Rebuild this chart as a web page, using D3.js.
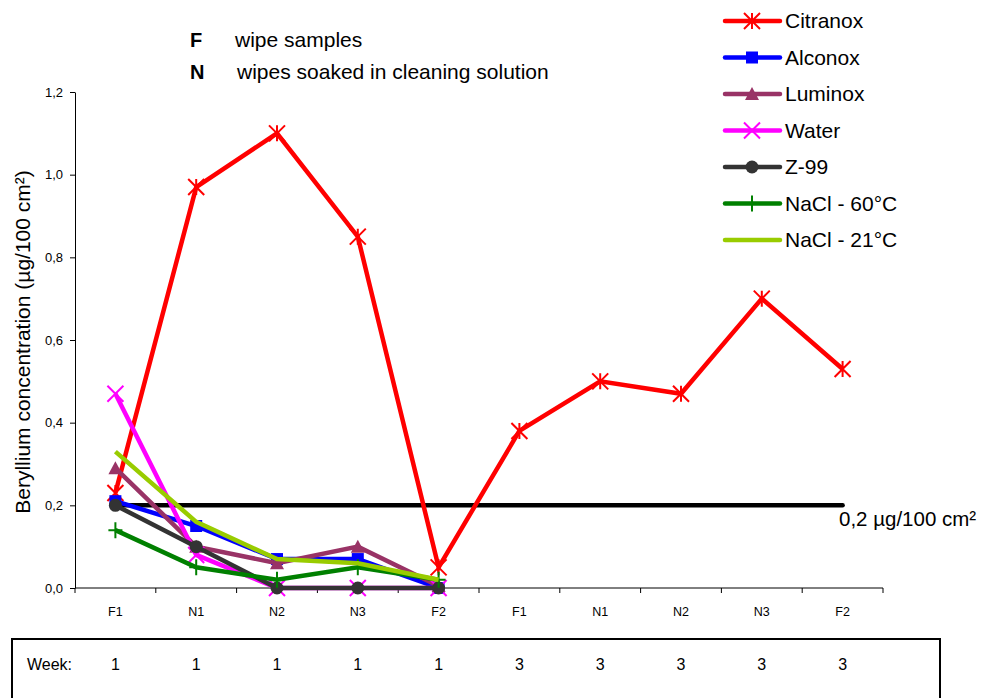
<!DOCTYPE html>
<html>
<head>
<meta charset="utf-8">
<script src="https://cdn.jsdelivr.net/npm/d3@7"></script>
<style>
html,body{margin:0;padding:0;background:#fff;}
svg{display:block;font-family:"Liberation Sans",Arial,sans-serif;}
</style>
</head>
<body>
<svg id="chart" width="983" height="698"></svg>
<script>
// ---- data ----
const categories = ["F1","N1","N2","N3","F2","F1","N1","N2","N3","F2"];
const weeks = ["1","1","1","1","1","3","3","3","3","3"];
const citranox = [0.23,0.97,1.10,0.85,0.05,0.38,0.50,0.47,0.70,0.53];
const alconox  = [0.21,0.15,0.07,0.07,0.00];
const luminox  = [0.29,0.10,0.06,0.10,0.005];
const water    = [0.47,0.08,0.00,0.00,0.00];
const z99      = [0.20,0.10,0.00,0.00,0.00];
const nacl60   = [0.14,0.05,0.02,0.05,0.02];
const nacl21   = [0.33,0.16,0.07,0.06,0.02];
const seriesNames = ["Citranox","Alconox","Luminox","Water","Z-99","NaCl - 60°C","NaCl - 21°C"];
const yTicks = [0,0.2,0.4,0.6,0.8,1.0,1.2];
const limitValue = 0.2;
const limitLabel = "0,2 µg/100 cm²";
const yTitle = "Beryllium concentration  (µg/100 cm²)";

const seriesValues = [citranox,alconox,luminox,water,z99,nacl60,nacl21];
const colors = ["#FF0000","#0000FF","#993366","#FF00FF","#333333","#008000","#99CC00"];
const markers = ["star","square","triangle","x","circle","plus","none"];

const svg = d3.select("#chart");
const x = d3.scaleBand().domain(d3.range(categories.length)).range([75,883]).padding(0);
const y = d3.scaleLinear().domain([0,1.2]).range([588,92]);
const cx = i => x(i) + x.bandwidth()/2;

// axes
const yAxis = svg.append("g").attr("transform","translate(75,0)")
  .call(d3.axisLeft(y).tickValues(yTicks).tickSize(5).tickSizeOuter(0)
    .tickFormat(d => d3.format(".1f")(d).replace(".",",")));
yAxis.select(".domain").attr("stroke","#000");
yAxis.selectAll("text").attr("font-size",13).attr("font-family","Liberation Sans, Arial").attr("fill","#000").attr("x",-12);

// x axis: ticks at band boundaries
const xg = svg.append("g").attr("transform","translate(0,588)");
xg.append("line").attr("x1",75).attr("x2",883).attr("stroke","#000");
xg.selectAll("line.tk").data(d3.range(categories.length+1)).enter().append("line")
  .attr("class","tk").attr("x1",i=>75+i*x.step()).attr("x2",i=>75+i*x.step())
  .attr("y1",0).attr("y2",5).attr("stroke","#000");
xg.selectAll("text").data(categories).enter().append("text")
  .attr("x",(d,i)=>cx(i)).attr("y",28).attr("text-anchor","middle")
  .attr("font-size",12.5).text(d=>d);

// y title
svg.append("text").attr("transform","translate(30,342) rotate(-90)")
  .attr("text-anchor","middle").attr("font-size",21).text(yTitle);

// limit line
svg.append("line").attr("x1",cx(0)).attr("x2",cx(9)).attr("y1",y(limitValue)).attr("y2",y(limitValue))
  .attr("stroke","#000").attr("stroke-width",4.5).attr("stroke-linecap","round");
svg.append("text").attr("x",839).attr("y",y(limitValue)+21).attr("font-size",20.5).text(limitLabel);

// marker drawing
function drawMarker(g, type, color, px, py){
  const s = 8;
  if(type==="star"){
    g.append("path").attr("d",`M${px-s},${py-s}L${px+s},${py+s}M${px-s},${py+s}L${px+s},${py-s}M${px},${py-s}L${px},${py+s}`)
      .attr("stroke",color).attr("stroke-width",2).attr("fill","none");
  } else if(type==="x"){
    g.append("path").attr("d",`M${px-s},${py-s}L${px+s},${py+s}M${px-s},${py+s}L${px+s},${py-s}`)
      .attr("stroke",color).attr("stroke-width",2).attr("fill","none");
  } else if(type==="plus"){
    g.append("path").attr("d",`M${px-7},${py}L${px+7},${py}M${px},${py-8}L${px},${py+8}`)
      .attr("stroke",color).attr("stroke-width",2).attr("fill","none");
  } else if(type==="square"){
    g.append("rect").attr("x",px-6).attr("y",py-6).attr("width",12).attr("height",12).attr("fill",color);
  } else if(type==="triangle"){
    g.append("path").attr("d",`M${px},${py-7}L${px+7},${py+6}L${px-7},${py+6}Z`).attr("fill",color);
  } else if(type==="circle"){
    g.append("circle").attr("cx",px).attr("cy",py).attr("r",6.5).attr("fill",color);
  }
}

const line = d3.line().x((d,i)=>cx(i)).y(d=>y(d));
seriesValues.forEach((vals,k)=>{
  const g = svg.append("g");
  g.append("path").datum(vals).attr("d",line).attr("fill","none")
    .attr("stroke",colors[k]).attr("stroke-width",4.5).attr("stroke-linejoin","miter");
  vals.forEach((v,i)=>drawMarker(g,markers[k],colors[k],cx(i),y(v)));
});

// legend
const lg = svg.append("g");
seriesNames.forEach((name,k)=>{
  const yy = 21 + k*36.5;
  lg.append("line").attr("x1",725).attr("x2",780).attr("y1",yy).attr("y2",yy)
    .attr("stroke",colors[k]).attr("stroke-width",4.5).attr("stroke-linecap","round");
  drawMarker(lg,markers[k],colors[k],752,yy);
  lg.append("text").attr("x",785).attr("y",yy+7).attr("font-size",21).text(name);
});

// annotation
svg.append("text").attr("x",190).attr("y",47).attr("font-size",20).attr("font-weight","bold").text("F");
svg.append("text").attr("x",235).attr("y",47).attr("font-size",21).text("wipe samples");
svg.append("text").attr("x",190).attr("y",79).attr("font-size",20).attr("font-weight","bold").text("N");
svg.append("text").attr("x",237).attr("y",79).attr("font-size",21).text("wipes soaked in cleaning solution");

// week table
svg.append("rect").attr("x",12).attr("y",639).attr("width",928).attr("height",80)
  .attr("fill","none").attr("stroke","#000").attr("stroke-width",2);
svg.append("text").attr("x",27).attr("y",670).attr("font-size",16).text("Week:");
svg.selectAll("text.wk").data(weeks).enter().append("text").attr("class","wk")
  .attr("x",(d,i)=>cx(i)).attr("y",670).attr("text-anchor","middle").attr("font-size",16).text(d=>d);
</script>
</body>
</html>
